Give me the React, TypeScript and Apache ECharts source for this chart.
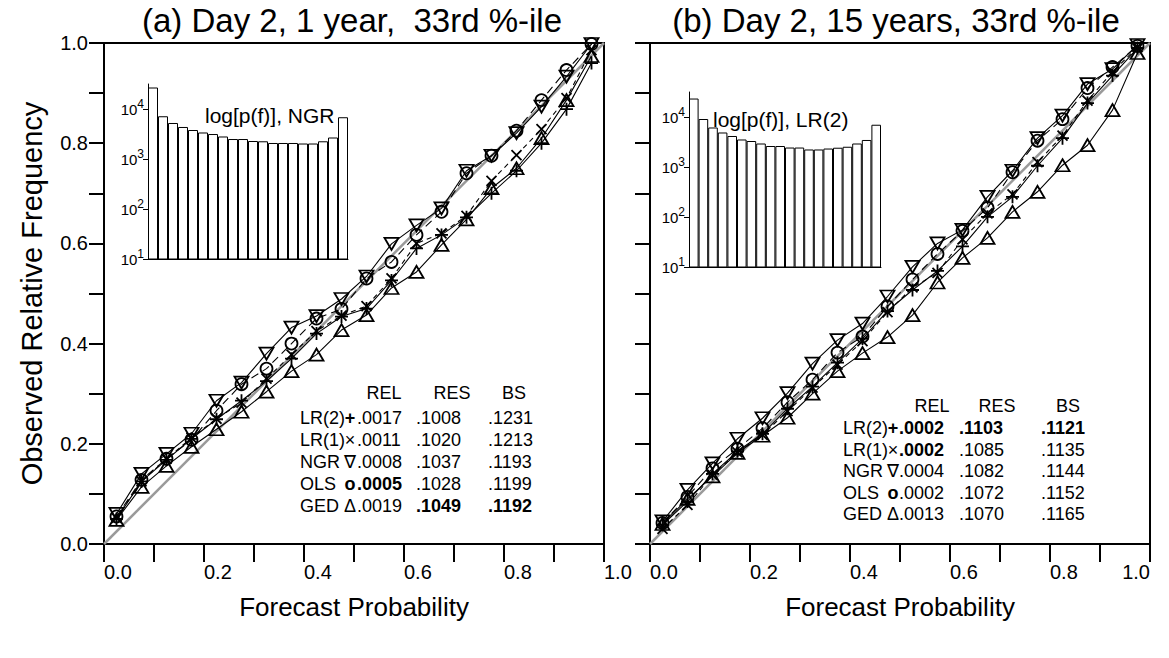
import React, { useEffect, useRef } from 'react';
import * as echarts from 'echarts';

const FONT = '"Liberation Sans", Arial, Helvetica, sans-serif';

const binCenters = [0.025, 0.075, 0.125, 0.175, 0.225, 0.275, 0.325, 0.375, 0.425, 0.475, 0.525, 0.575, 0.625, 0.675, 0.725, 0.775, 0.825, 0.875, 0.925, 0.975];

// Panel (a): Day 2, 1 year
const aLR2 = [0.050, 0.125, 0.168, 0.210, 0.249, 0.286, 0.325, 0.370, 0.420, 0.454, 0.470, 0.526, 0.590, 0.617, 0.652, 0.700, 0.745, 0.800, 0.868, 0.960];
const aLR1 = [0.052, 0.125, 0.170, 0.212, 0.250, 0.282, 0.330, 0.378, 0.425, 0.456, 0.475, 0.530, 0.600, 0.620, 0.655, 0.725, 0.776, 0.828, 0.890, 0.986];
const aNGR = [0.060, 0.140, 0.180, 0.220, 0.286, 0.322, 0.380, 0.432, 0.455, 0.489, 0.534, 0.599, 0.636, 0.670, 0.745, 0.775, 0.820, 0.873, 0.933, 0.998];
const aOLS = [0.055, 0.128, 0.170, 0.208, 0.266, 0.319, 0.350, 0.400, 0.450, 0.469, 0.530, 0.563, 0.617, 0.663, 0.740, 0.775, 0.825, 0.886, 0.946, 0.998];
const aGED = [0.048, 0.114, 0.156, 0.194, 0.229, 0.264, 0.304, 0.345, 0.378, 0.427, 0.457, 0.511, 0.543, 0.597, 0.648, 0.710, 0.750, 0.810, 0.886, 0.974];

// Panel (b): Day 2, 15 years
const bLR2 = [0.038, 0.085, 0.140, 0.185, 0.220, 0.270, 0.314, 0.362, 0.410, 0.465, 0.507, 0.545, 0.594, 0.653, 0.693, 0.755, 0.810, 0.880, 0.935, 0.990];
const bLR1 = [0.030, 0.078, 0.138, 0.183, 0.218, 0.265, 0.312, 0.358, 0.405, 0.463, 0.512, 0.541, 0.608, 0.660, 0.698, 0.762, 0.815, 0.885, 0.942, 0.992];
const bNGR = [0.045, 0.108, 0.161, 0.210, 0.251, 0.301, 0.360, 0.407, 0.440, 0.494, 0.553, 0.600, 0.627, 0.693, 0.745, 0.810, 0.855, 0.918, 0.948, 0.996];
const bOLS = [0.042, 0.094, 0.151, 0.190, 0.231, 0.283, 0.328, 0.382, 0.414, 0.474, 0.528, 0.579, 0.625, 0.671, 0.742, 0.805, 0.848, 0.910, 0.952, 0.994];
const bGED = [0.040, 0.090, 0.135, 0.182, 0.216, 0.252, 0.300, 0.345, 0.381, 0.413, 0.457, 0.522, 0.571, 0.611, 0.663, 0.703, 0.756, 0.796, 0.866, 0.980];

// Inset histograms, forecast counts per bin
const histA = [26900, 7160, 5250, 4370, 3800, 3390, 3160, 2820, 2510, 2510, 2290, 2260, 2090, 2090, 2090, 2040, 2040, 2260, 2690, 6840];
const histB = [23400, 9120, 6170, 4900, 4170, 3550, 3310, 2950, 2630, 2630, 2450, 2450, 2240, 2240, 2340, 2430, 2540, 2950, 3470, 7000];
const histTicks = [10, 100, 1000, 10000];

// Score tables
const methodNames = ['LR(2)', 'LR(1)', 'NGR', 'OLS', 'GED'];
const methodGlyphs = ['+', '×', '∇', 'o', 'Δ'];
const scoreHeaders = ['REL', 'RES', 'BS'];
const relA = ['.0017', '.0011', '.0008', '.0005', '.0019'];
const resA = ['.1008', '.1020', '.1037', '.1028', '.1049'];
const bsA = ['.1231', '.1213', '.1193', '.1199', '.1192'];
const boldA = [[false, false, false], [false, false, false], [false, false, false], [true, false, false], [false, true, true]];
const relB = ['.0002', '.0002', '.0004', '.0002', '.0013'];
const resB = ['.1103', '.1085', '.1082', '.1072', '.1070'];
const bsB = ['.1121', '.1135', '.1144', '.1152', '.1165'];
const boldB = [[true, true, true], [true, false, false], [false, false, false], [false, false, false], [false, false, false]];

const SYM_PLUS = 'path://M5,0L5,10M0,5L10,5';
const SYM_CROSS = 'path://M0,0L10,10M10,0L0,10';
const SYM_DOWN = 'path://M0,0L10,0L5,8.66Z';
const SYM_UP = 'path://M5,0L10,8.66L0,8.66Z';

function tickFmt(v: number) {
  const k = Math.round(v * 10);
  return k % 2 === 0 ? (k / 10).toFixed(1) : '';
}

function logFmt(v: number) {
  const l = Math.log10(v);
  const e = Math.round(l);
  if (Math.abs(l - e) > 0.01) return '';
  return `{b|10}{e|${e}}`;
}

export default function App() {
  const ref = useRef<HTMLDivElement>(null);
  useEffect(() => {
    if (!ref.current) return;
    const chart = echarts.init(ref.current, undefined, { renderer: 'svg' });

    const grids = [
      { left: 104, top: 43, width: 500, height: 501, show: true, borderColor: '#000', borderWidth: 2, backgroundColor: 'transparent' },
      { left: 650, top: 43, width: 500, height: 501, show: true, borderColor: '#000', borderWidth: 2, backgroundColor: 'transparent' },
      { left: 148, top: 84, width: 200, height: 175, show: false },
      { left: 689, top: 92, width: 192, height: 175, show: false },
    ];

    const mainX = (g: number, alignMax: string) => ({
      type: 'value', gridIndex: g, min: 0, max: 1, interval: 0.1,
      axisLine: { show: true, lineStyle: { color: '#000', width: 2 } },
      axisTick: { show: true, length: 18, lineStyle: { color: '#000', width: 2 } },
      axisLabel: { formatter: tickFmt, align: 'left', alignMaxLabel: alignMax, margin: 18, fontSize: 20, color: '#000', fontFamily: FONT },
      splitLine: { show: false },
      name: 'Forecast Probability', nameLocation: 'middle', nameGap: 50,
      nameTextStyle: { fontSize: 26, color: '#000', fontFamily: FONT },
    });
    const mainY = (g: number, withLabels: boolean) => ({
      type: 'value', gridIndex: g, min: 0, max: 1, interval: 0.1,
      axisLine: { show: true, lineStyle: { color: '#000', width: 2 } },
      axisTick: { show: true, length: 15, lineStyle: { color: '#000', width: 2 } },
      axisLabel: { show: withLabels, formatter: tickFmt, margin: 16, fontSize: 20, color: '#000', fontFamily: FONT },
      splitLine: { show: false },
      name: withLabels ? 'Observed Relative Frequency' : '', nameLocation: 'middle', nameGap: 58,
      nameTextStyle: { fontSize: 29, color: '#000', fontFamily: FONT },
    });
    const insetX = (g: number) => ({
      type: 'category', gridIndex: g, data: binCenters.map((b) => String(b)),
      axisLine: { show: true, lineStyle: { color: '#000', width: 1 } },
      axisTick: { show: false }, axisLabel: { show: false }, splitLine: { show: false },
    });
    const insetY = (g: number) => ({
      type: 'log', logBase: 10, gridIndex: g, min: 10, max: 31623,
      axisLine: { show: true, lineStyle: { color: '#000', width: 1 } },
      axisTick: { show: true, length: 5, customValues: histTicks, lineStyle: { color: '#000', width: 1 } },
      axisLabel: {
        customValues: histTicks, formatter: logFmt, margin: 4, color: '#000',
        rich: {
          b: { fontSize: 15, fontFamily: FONT, color: '#000', lineHeight: 22 },
          e: { fontSize: 12, fontFamily: FONT, color: '#000', lineHeight: 12, verticalAlign: 'top' },
        },
      },
      splitLine: { show: false },
    });

    const mk = (name: string, vals: number[], g: number, symbol: string, size: any, dash: any) => ({
      type: 'line', name, xAxisIndex: g, yAxisIndex: g,
      data: binCenters.map((x, i) => [x, vals[i]]),
      symbol, symbolSize: size, showAllSymbol: true,
      lineStyle: { color: '#000', width: 1.1, type: dash },
      itemStyle: { color: 'rgba(0,0,0,0)', borderColor: '#000', borderWidth: 1.8 },
      z: 3,
    });
    const diag = (g: number) => ({
      type: 'line', xAxisIndex: g, yAxisIndex: g, data: [[0, 0], [1, 1]], symbol: 'none',
      lineStyle: { color: '#9a9a9a', width: 2.5 }, z: 2, silent: true,
    });
    const panel = (g: number, d: number[][]) => [
      diag(g),
      mk('LR(2)', d[0], g, SYM_PLUS, 13, 'solid'),
      mk('LR(1)', d[1], g, SYM_CROSS, 10, [5, 4]),
      mk('NGR', d[2], g, SYM_DOWN, [14, 12], 'solid'),
      mk('OLS', d[3], g, 'circle', 12, [8, 5]),
      mk('GED', d[4], g, SYM_UP, [14, 12], 'solid'),
    ];
    const bars = (g: number, vals: number[]) => ({
      type: 'bar', xAxisIndex: g, yAxisIndex: g, data: vals, barCategoryGap: '0%', clip: true,
      itemStyle: { color: '#fff', borderColor: '#000', borderWidth: 1 }, z: 4,
    });

    const txt = (text: string, x: number, y: number, size: number, align: string, bold = false) => ({
      type: 'text', x, y, z: 10,
      style: {
        text, fill: '#000', fontSize: size, fontFamily: FONT, fontWeight: bold ? 'bold' : 'normal',
        align, textAlign: align, verticalAlign: 'middle', textVerticalAlign: 'middle',
      },
    });

    const table = (x0: number, cols: number[], heads: number[], yHead: number, yRow0: number, dy: number,
      rel: string[], res: string[], bs: string[], bold: boolean[][], boldGlyph: boolean[]) => {
      const out: any[] = [];
      scoreHeaders.forEach((h, j) => out.push(txt(h, heads[j], yHead, 18, 'center')));
      methodNames.forEach((n, i) => {
        const y = yRow0 + dy * i;
        out.push(txt(n, x0, y, 18, 'left'));
        out.push(txt(methodGlyphs[i], x0 + 50, y, 18, 'center', boldGlyph[i]));
        [rel[i], res[i], bs[i]].forEach((v, j) => out.push(txt(v, cols[j], y, 18, 'left', bold[i][j])));
      });
      return out;
    };

    const graphics = [
      txt('(a) Day 2, 1 year,  33rd %-ile', 352, 20, 33, 'center'),
      txt('(b) Day 2, 15 years, 33rd %-ile', 896, 20, 33, 'center'),
      txt('log[p(f)], NGR', 205, 115, 21, 'left'),
      txt('log[p(f)], LR(2)', 713, 119, 21, 'left'),
      ...table(300, [357, 416, 488], [384, 452, 514], 393, 418, 22, relA, resA, bsA, boldA, [true, false, false, true, false]),
      ...table(843, [899, 959, 1041], [932, 997, 1068], 406, 428, 21.5, relB, resB, bsB, boldB, [true, false, false, true, false]),
    ];

    chart.setOption({
      animation: false,
      backgroundColor: '#fff',
      grid: grids,
      xAxis: [mainX(0, 'left'), mainX(1, 'right'), insetX(2), insetX(3)],
      yAxis: [mainY(0, true), mainY(1, false), insetY(2), insetY(3)],
      series: [
        ...panel(0, [aLR2, aLR1, aNGR, aOLS, aGED]),
        ...panel(1, [bLR2, bLR1, bNGR, bOLS, bGED]),
        bars(2, histA),
        bars(3, histB),
      ],
      graphic: graphics,
    });
    return () => chart.dispose();
  }, []);
  return <div ref={ref} style={{ position: 'absolute', left: 0, top: 0, width: 1169, height: 658 }} />;
}
